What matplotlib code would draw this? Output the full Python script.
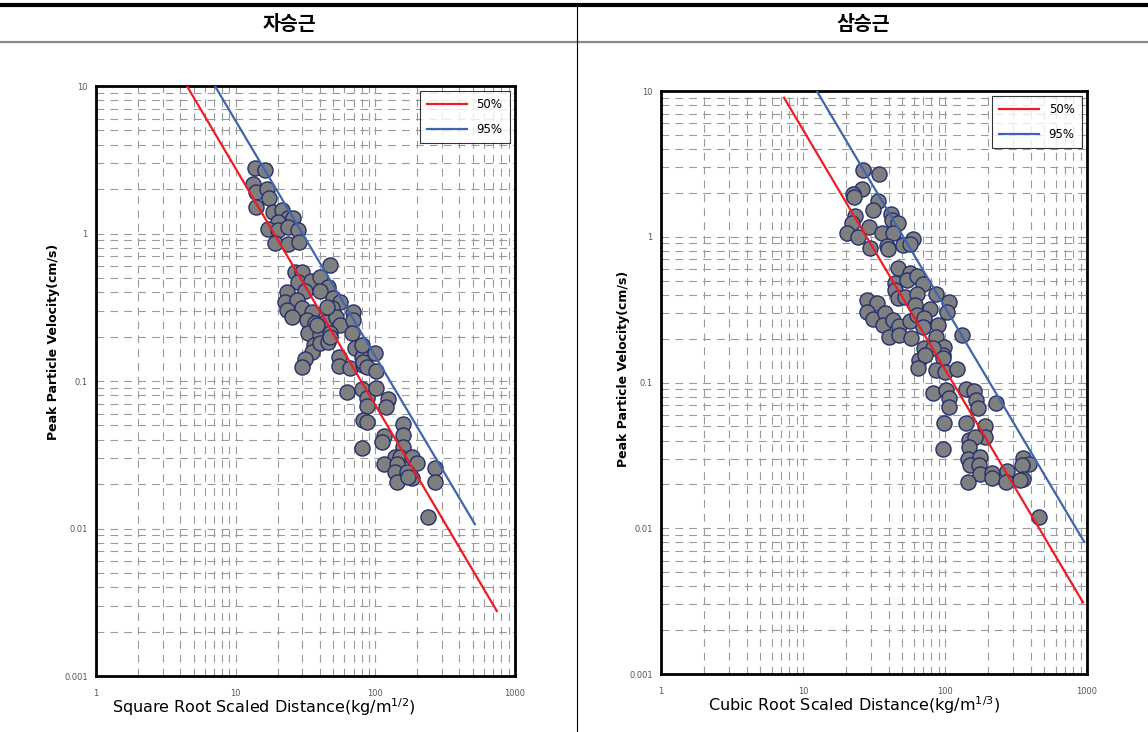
import matplotlib
matplotlib.use("Agg")
import matplotlib.pyplot as plt
import matplotlib.ticker as mticker
from matplotlib.lines import Line2D

plt.rcParams['font.family'] = ['DejaVu Sans', 'Noto Sans CJK KR']

# 자승근 (square root scaled distance) - measured points
sq_dist = [13.7, 16.2, 13.4, 14.1, 16.9, 17.3, 13.9, 18.6, 21.3, 23.6,
           25.8, 20.2, 17.1, 20.2, 23.8, 28.1, 19.1, 23.8, 28.4, 47.3,
           26.6, 30.0, 27.8, 34.6, 40.1, 46.0, 23.2, 31.3, 40.1, 22.5,
           27.3, 29.7, 35.0, 50.0, 55.8, 48.7, 23.2, 25.4, 32.2, 37.0,
           43.6, 52.0, 55.8, 69.5, 69.5, 67.6, 33.1, 40.1, 47.3, 36.5,
           35.0, 40.1, 46.0, 31.3, 30.0, 54.9, 54.9, 65.8, 71.4, 79.8,
           81.9, 44.8, 38.0, 47.3, 79.8, 81.9, 86.6, 99.3, 101, 62.3,
           79.8, 86.6, 101, 124, 120, 86.6, 81.9, 87.5, 79.8, 158,
           157, 115, 111, 157, 138, 150, 182, 200, 115, 142,
           138, 168, 182, 142, 267, 267, 239, 172]
sq_ppv = [2.79, 2.70, 2.16, 1.90, 2.00, 1.75, 1.52, 1.39, 1.44, 1.27,
          1.28, 1.20, 1.07, 1.06, 1.11, 1.06, 0.86, 0.845, 0.88, 0.61,
          0.551, 0.546, 0.471, 0.476, 0.509, 0.436, 0.399, 0.408, 0.408, 0.345,
          0.354, 0.311, 0.295, 0.364, 0.345, 0.311, 0.303, 0.273, 0.259, 0.246,
          0.252, 0.273, 0.240, 0.295, 0.259, 0.210, 0.210, 0.205, 0.210, 0.175,
          0.158, 0.180, 0.185, 0.141, 0.125, 0.146, 0.127, 0.122, 0.167, 0.146,
          0.128, 0.319, 0.240, 0.200, 0.175, 0.135, 0.125, 0.154, 0.116, 0.0846,
          0.0879, 0.0763, 0.0891, 0.0752, 0.0670, 0.0677, 0.0544, 0.0530, 0.0350, 0.0511,
          0.0430, 0.0424, 0.0388, 0.0359, 0.0307, 0.0307, 0.0307, 0.0279, 0.0274, 0.0274,
          0.0243, 0.0243, 0.0219, 0.0208, 0.0256, 0.0208, 0.0120, 0.0224]

# 삼승근 (cubic root scaled distance) - measured points
cb_dist = [26.3, 34.3, 25.9, 22.4, 22.9, 33.9, 31.0, 41.5, 23.2, 22.0,
           29.3, 42.2, 46.9, 20.5, 24.5, 35.8, 43.3, 59.3, 29.6, 39.2,
           39.9, 50.4, 56.7, 46.5, 56.7, 44.5, 53.7, 63.8, 69.7, 44.5,
           46.9, 52.3, 63.8, 86.4, 106, 28.1, 33.4, 28.1, 31.0, 37.8,
           61.5, 78.4, 103, 36.8, 43.3, 47.7, 56.7, 63.8, 71.1, 70.3,
           89.7, 40.5, 47.7, 57.6, 86.4, 131, 71.1, 98.4, 65.9, 97.3,
           82.7, 72.3, 97.3, 64.9, 86.4, 100, 121, 81.9, 102, 106,
           106, 141, 160, 165, 172, 229, 98.4, 141, 191, 191,
           148, 163, 96.3, 148, 146, 176, 150, 174, 176, 213,
           144, 213, 272, 269, 352, 392, 347, 352, 337, 462]
cb_ppv = [2.87, 2.68, 2.13, 1.96, 1.88, 1.76, 1.53, 1.43, 1.39, 1.24,
          1.17, 1.30, 1.24, 1.07, 1.00, 1.06, 1.06, 0.965, 0.841, 0.869,
          0.824, 0.878, 0.888, 0.608, 0.561, 0.480, 0.505, 0.541, 0.472, 0.431,
          0.382, 0.388, 0.403, 0.403, 0.358, 0.368, 0.349, 0.306, 0.273, 0.298,
          0.340, 0.319, 0.306, 0.248, 0.269, 0.245, 0.264, 0.291, 0.279, 0.241,
          0.248, 0.206, 0.212, 0.203, 0.206, 0.212, 0.172, 0.176, 0.143, 0.154,
          0.172, 0.154, 0.147, 0.125, 0.122, 0.119, 0.123, 0.0843, 0.0889, 0.0780,
          0.0676, 0.0898, 0.0879, 0.0759, 0.0665, 0.0720, 0.0530, 0.0525, 0.0503, 0.0425,
          0.0403, 0.0421, 0.0348, 0.0363, 0.0297, 0.0307, 0.0272, 0.0272, 0.0236, 0.0238,
          0.0209, 0.0220, 0.0248, 0.0209, 0.0302, 0.0276, 0.0272, 0.0217, 0.0214, 0.0119]

# 회귀선 (log-log 직선, 양 끝점)
sq_50_x, sq_50_y = [4.48, 741], [10, 0.00276]
sq_95_x, sq_95_y = [7.11, 516], [10, 0.0107]
cb_50_x, cb_50_y = [7.35, 937], [9.0, 0.0031]
cb_95_x, cb_95_y = [12.5, 952], [10, 0.0081]

headers = ['자승근', '삼승근']
xlabels = [r'Square Root Scaled Distance(kg/m$^{1/2}$)',
           r'Cubic Root Scaled Distance(kg/m$^{1/3}$)']
ylabel = 'Peak Particle Velocity(cm/s)'
legend_labels = ['50%', '95%']


def draw_panel(ax, dist, ppv, l50, l95, xlabel, xlab_pos, ylab_x, ylab_y):
    ax.set_xscale('log')
    ax.set_yscale('log')
    ax.set_xlim(1, 1000)
    ax.set_ylim(0.001, 10)

    # 점선 격자 (주/보조)
    ax.grid(True, which='both', color='#9a9a9a', linestyle=(0, (7, 5.5)), linewidth=0.8)
    ax.set_axisbelow(True)

    ax.scatter(dist, ppv, s=118, facecolor='#7f7f7f', edgecolor='#24306e',
               linewidth=1.0, zorder=3)
    ax.plot(l50[0], l50[1], color='#ee1d23', linewidth=1.6, zorder=4, label=legend_labels[0])
    ax.plot(l95[0], l95[1], color='#4064b0', linewidth=1.6, zorder=4, label=legend_labels[1])

    fmt = mticker.FuncFormatter(lambda v, p: f'{v:g}')
    ax.xaxis.set_major_formatter(fmt)
    ax.yaxis.set_major_formatter(fmt)
    ax.xaxis.set_minor_formatter(mticker.NullFormatter())
    ax.yaxis.set_minor_formatter(mticker.NullFormatter())
    ax.tick_params(which='both', length=0, labelsize=6, labelcolor='#555555')
    ax.tick_params(axis='x', pad=9)
    ax.tick_params(axis='y', pad=6)

    for s in ax.spines.values():
        s.set_linewidth(2.0)
        s.set_color('black')

    ax.set_xlabel(xlabel, fontsize=11.5)
    ax.xaxis.set_label_coords(xlab_pos, -0.035)
    ax.set_ylabel(ylabel, fontsize=9, fontweight='bold')
    ax.yaxis.set_label_coords(ylab_x, ylab_y)

    leg = ax.legend(loc='upper right', fontsize=8.5, frameon=True, fancybox=False,
                    edgecolor='black', handlelength=3.4, borderpad=0.6,
                    labelspacing=1.0, borderaxespad=0.45)
    leg.get_frame().set_linewidth(0.8)
    leg.set_zorder(5)


def draw_figure():
    fig = plt.figure(figsize=(11.48, 7.32), dpi=100)

    ax1 = fig.add_axes([0.0836, 0.0765, 0.365, 0.806])
    ax2 = fig.add_axes([0.5758, 0.0792, 0.3711, 0.7964])

    draw_panel(ax1, sq_dist, sq_ppv, (sq_50_x, sq_50_y), (sq_95_x, sq_95_y),
               xlabels[0], 0.40, -0.085, 0.566)
    draw_panel(ax2, cb_dist, cb_ppv, (cb_50_x, cb_50_y), (cb_95_x, cb_95_y),
               xlabels[1], 0.453, -0.072, 0.523)

    # 표 형태의 테두리 / 머리글
    fig.add_artist(Line2D([0, 1], [0.9935, 0.9935], color='black', linewidth=3))
    fig.add_artist(Line2D([0, 1], [0.943, 0.943], color='#8a8a8a', linewidth=1.6))
    fig.add_artist(Line2D([0.5026, 0.5026], [0, 0.9935], color='black', linewidth=0.8))

    fig.text(0.2517, 0.966, headers[0], ha='center', va='center', fontsize=14,
             fontweight='bold', family=['Noto Sans CJK KR', 'DejaVu Sans'])
    fig.text(0.7517, 0.966, headers[1], ha='center', va='center', fontsize=14,
             fontweight='bold', family=['Noto Sans CJK KR', 'DejaVu Sans'])

    fig.savefig('out.png', dpi=100, facecolor='white')


if __name__ == "__main__":
    draw_figure()
